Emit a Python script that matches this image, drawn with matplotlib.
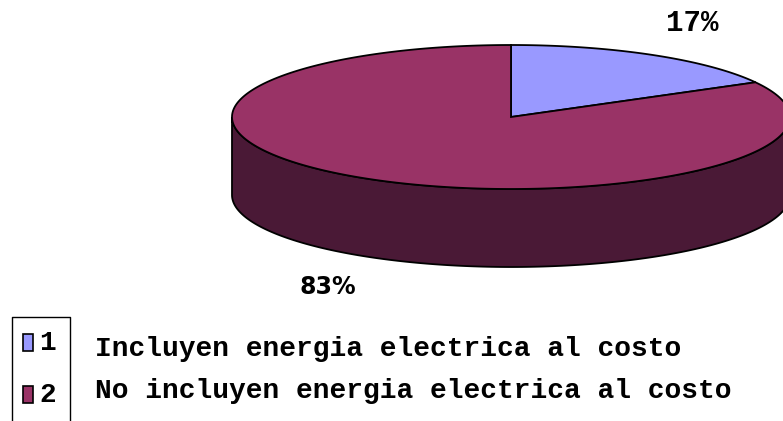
import numpy as np
import matplotlib
matplotlib.use("Agg")
import matplotlib.pyplot as plt
from matplotlib.patches import Polygon, Rectangle

# datos
categorias = ["1", "2"]
descripciones = ["Incluyen energia electrica al costo",
                 "No incluyen energia electrica al costo"]
valores = [17, 83]
etiquetas = ["17%", "83%"]
colores = ["#9999FF", "#993366"]
colores_lado = ["#4A1936", "#4A1936"]

# geometria del pastel 3D (pixeles)
cx, cy = 511, 117
a, b = 279, 72
prof = 78

fig = plt.figure(figsize=(7.83, 4.21), dpi=100)
ax = fig.add_axes([0, 0, 1, 1])
ax.set_xlim(0, 783)
ax.set_ylim(421, 0)
ax.axis("off")


def punto(t, dy=0):
    return cx + a * np.cos(t), cy - b * np.sin(t) + dy


total = float(sum(valores))
inicio = 90.0
angulos = []
for v in valores:
    fin = inicio - 360.0 * v / total
    angulos.append((inicio, fin))
    inicio = fin

# lado (solo la mitad frontal, 180..360 grados)
for (ini, fin), col in zip(angulos, colores_lado):
    lo, hi = min(ini, fin), max(ini, fin)
    for off in (0, 360, -360):
        s = max(lo + off, 180)
        e = min(hi + off, 360)
        if e <= s:
            continue
        t = np.radians(np.linspace(s, e, 200))
        x, y = punto(t)
        xb, yb = punto(t[::-1], prof)
        pts = np.column_stack([np.r_[x, xb], np.r_[y, yb]])
        ax.add_patch(Polygon(pts, closed=True, fc=col, ec="black", lw=1.3, zorder=1))

# cara superior
for (ini, fin), col in zip(angulos, colores):
    t = np.radians(np.linspace(ini, fin, 300))
    x, y = punto(t)
    pts = np.column_stack([np.r_[cx, x], np.r_[cy, y]])
    ax.add_patch(Polygon(pts, closed=True, fc=col, ec="black", lw=1.3, zorder=2))

# etiquetas de porcentaje
ax.text(692, 23, etiquetas[0], ha="center", va="center", fontsize=21,
        family="Liberation Mono", weight="bold", zorder=5)
ax.text(328, 287, etiquetas[1], ha="center", va="center", fontsize=17,
        family="DejaVu Sans", weight="bold", zorder=5)

# leyenda
ax.plot([12, 12, 70, 70], [421, 317, 317, 421], color="black", lw=1, zorder=3)
filas_y = [343, 395]
texto_y = [349, 391]
for cat, desc, col, fy, ty in zip(categorias, descripciones, colores, filas_y, texto_y):
    ax.add_patch(Rectangle((23, fy - 9), 10, 17, fc=col, ec="black", lw=1.2, zorder=4))
    ax.text(39, fy, cat, ha="left", va="center", fontsize=20,
            family="Liberation Mono", weight="bold")
    ax.text(95, ty, desc, ha="left", va="center", fontsize=20.1,
            family="Liberation Mono", weight="bold")

fig.savefig("out.png", dpi=100)
